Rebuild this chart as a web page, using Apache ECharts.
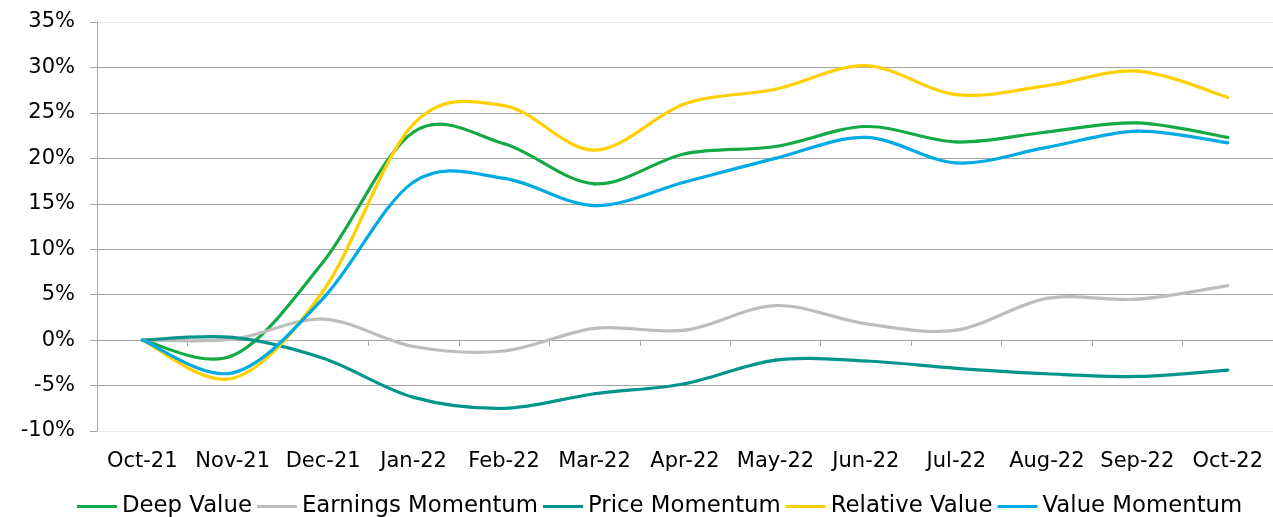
<!DOCTYPE html>
<html>
<head>
<meta charset="utf-8">
<script src="https://cdn.jsdelivr.net/npm/echarts@6/dist/echarts.min.js"></script>
<style>
  html, body { margin: 0; padding: 0; background: #fff; }
  #chart { width: 1273px; height: 517px; }
</style>
</head>
<body>
<div id="chart"></div>
<script>
// monthly cumulative returns (%) per style
const months = ["Oct-21", "Nov-21", "Dec-21", "Jan-22", "Feb-22", "Mar-22", "Apr-22",
  "May-22", "Jun-22", "Jul-22", "Aug-22", "Sep-22", "Oct-22"];
const deepValue     = [0, -1.7, 8.6, 22.9, 21.6, 17.2, 20.5, 21.3, 23.5, 21.8, 22.9, 23.9, 22.3];
const earningsMom   = [0, 0.1, 2.3, -0.7, -1.2, 1.3, 1.1, 3.8, 1.8, 1.1, 4.6, 4.5, 6.0];
const priceMom      = [0, 0.3, -2.0, -6.3, -7.5, -5.9, -4.8, -2.2, -2.3, -3.1, -3.7, -4.0, -3.3];
const relativeValue = [0, -4.2, 5.4, 23.8, 25.8, 20.9, 26.0, 27.6, 30.2, 27.0, 28.0, 29.6, 26.7];
const valueMom      = [0, -3.6, 4.6, 17.4, 17.8, 14.8, 17.4, 20.0, 22.3, 19.5, 21.2, 23.0, 21.7];
const yTicks = [-10, 35, 5];

const FONT = "DejaVu Sans";
const GRID_GREY = "#a6a6a6";

// Excel-style smoothed line: each item draws the cubic segment from the previous point,
// control points taken from the neighbours (Catmull-Rom), positions via api.coord
function smoothLine(name, values, color) {
  const last = values.length - 1;
  return {
    name, type: "custom", xAxisIndex: 0,
    data: values.map((v, i) => [i, v]),
    encode: { x: 0, y: 1 },
    itemStyle: { color },
    renderItem(params, api) {
      const i = params.dataIndex;
      if (i === 0) return null;
      const pt = (k) => { k = Math.max(0, Math.min(last, k)); return api.coord([k, values[k]]); };
      const p0 = pt(i - 2), p1 = pt(i - 1), p2 = pt(i), p3 = pt(i + 1);
      return {
        type: "bezierCurve",
        shape: {
          x1: p1[0], y1: p1[1], x2: p2[0], y2: p2[1],
          cpx1: p1[0] + (p2[0] - p0[0]) / 6, cpy1: p1[1] + (p2[1] - p0[1]) / 6,
          cpx2: p2[0] - (p3[0] - p1[0]) / 6, cpy2: p2[1] - (p3[1] - p1[1]) / 6
        },
        style: { stroke: color, lineWidth: 3.2, fill: null, lineCap: "round" }
      };
    }
  };
}

const chart = echarts.init(document.getElementById("chart"));
chart.setOption({
  animation: false,
  textStyle: { fontFamily: FONT },
  grid: { left: 97, top: 22, width: 1183, height: 409 },
  legend: {
    left: 72, top: 490, icon: "rect", itemWidth: 40, itemHeight: 3, itemGap: 5,
    textStyle: { fontFamily: FONT, fontSize: 22.8, color: "#000" }
  },
  xAxis: [
    {
      type: "category", data: months, position: "bottom",
      axisLine: { show: false, onZero: false }, axisTick: { show: false },
      axisLabel: { fontFamily: FONT, fontSize: 21, color: "#000", margin: 20, interval: 0 },
      splitLine: { show: false }
    },
    {
      type: "category", data: months, position: "bottom",
      axisLine: { onZero: true, lineStyle: { color: GRID_GREY, width: 1 } },
      axisTick: { show: true, length: 6, interval: 0, lineStyle: { color: GRID_GREY } },
      axisLabel: { show: false }, splitLine: { show: false }
    }
  ],
  yAxis: {
    type: "value", min: yTicks[0], max: yTicks[1], interval: yTicks[2],
    axisLine: { show: true, lineStyle: { color: GRID_GREY } },
    axisTick: { show: true, length: 7, lineStyle: { color: GRID_GREY } },
    axisLabel: { fontFamily: FONT, fontSize: 21, color: "#000", margin: 22, formatter: "{value}%" },
    splitLine: { lineStyle: { color: ["#ececec", GRID_GREY, GRID_GREY, GRID_GREY, GRID_GREY,
      GRID_GREY, GRID_GREY, GRID_GREY, GRID_GREY, "#ececec"], width: 1 } }
  },
  series: [
    smoothLine("Deep Value", deepValue, "#13aa45"),
    smoothLine("Earnings Momentum", earningsMom, "#bdbdbd"),
    smoothLine("Price Momentum", priceMom, "#00958c"),
    smoothLine("Relative Value", relativeValue, "#ffd000"),
    smoothLine("Value Momentum", valueMom, "#00aae2")
  ]
});
</script>
</body>
</html>
